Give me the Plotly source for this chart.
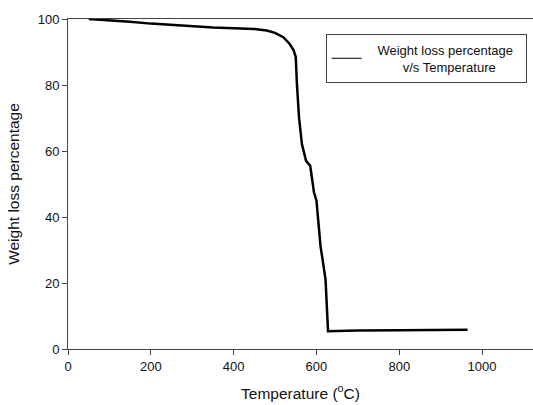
import plotly.graph_objects as go

temperature = [50, 100, 150, 200, 250, 300, 350, 400, 450, 480, 500, 520, 535, 545, 550,
               553, 558, 565, 575, 585, 590, 594, 600, 606, 610, 615, 622, 628, 632,
               650, 700, 800, 900, 965]
weight = [100, 99.7, 99.2, 98.6, 98.2, 97.7, 97.4, 97.2, 97.0, 96.5, 95.8, 94.5, 92.5, 90.5, 88.5,
          80, 70, 62, 57, 55.5, 50, 47.5, 45, 36, 31, 27, 21, 5.4, 5.4,
          5.5, 5.6, 5.7, 5.8, 5.8]
x_ticks = [0, 200, 400, 600, 800, 1000]
y_ticks = [0, 20, 40, 60, 80, 100]
nb = "\u00a0"
series_name = nb * 3 + "Weight loss percentage" + nb * 2 + "<br>" + nb * 10 + "v/s Temperature"

fig = go.Figure()
fig.add_trace(go.Scatter(x=temperature, y=weight, mode="lines",
                         line=dict(color="black", width=2.5), name=series_name,
                         showlegend=False))
# legend swatch (thin line as in the reference legend)
fig.add_trace(go.Scatter(x=[None], y=[None], mode="lines",
                         line=dict(color="black", width=1.2), name=series_name,
                         showlegend=True))

fam = "Liberation Sans, Arial, sans-serif"
fig.update_layout(
    width=533, height=405,
    margin=dict(l=68, r=0, t=19, b=56),
    plot_bgcolor="white", paper_bgcolor="white",
    font=dict(family=fam, size=13, color="#111"),
    showlegend=True,
    legend=dict(x=0.554, y=0.955, xanchor="left", yanchor="top",
                bordercolor="#444", borderwidth=1, bgcolor="white",
                font=dict(family=fam, size=13, color="#111"),
                itemwidth=30),
    xaxis=dict(range=[0, 1123], tickvals=x_ticks, ticks="outside", ticklen=5,
               tickcolor="#444", showline=True, linecolor="#444", linewidth=1,
               mirror=True, showgrid=False, zeroline=False,
               title=dict(text="Temperature (<sup>o</sup>C)", font=dict(size=15.5), standoff=15)),
    yaxis=dict(range=[0, 100], tickvals=y_ticks, ticks="outside", ticklen=5,
               tickcolor="#444", showline=True, linecolor="#444", linewidth=1,
               showgrid=False, zeroline=False,
               title=dict(text="Weight loss percentage", font=dict(size=15.5), standoff=14)),
)

fig.write_html("out.html", config={"displayModeBar": False},
               post_script="document.body.style.margin='0';document.documentElement.style.overflow='hidden';")
